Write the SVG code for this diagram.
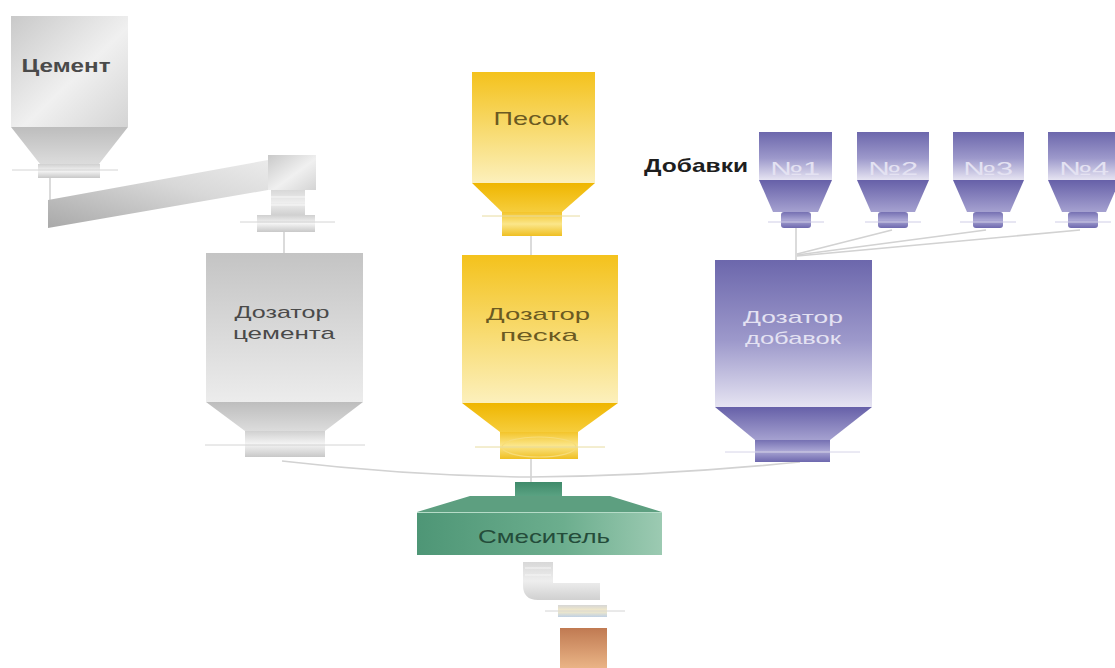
<svg xmlns="http://www.w3.org/2000/svg" width="1115" height="668" viewBox="0 0 1115 668">
  <defs>
    <!-- grey (cement) fills -->
    <linearGradient id="gBodyGrey" x1="0" y1="0" x2="1" y2="1">
      <stop offset="0" stop-color="#c9c9c9"/>
      <stop offset="0.55" stop-color="#f0f0f0"/>
      <stop offset="1" stop-color="#d4d4d4"/>
    </linearGradient>
    <linearGradient id="gBodyGrey2" x1="0" y1="0" x2="0" y2="1">
      <stop offset="0" stop-color="#c4c4c4"/>
      <stop offset="1" stop-color="#ececec"/>
    </linearGradient>
    <linearGradient id="gConeGrey" x1="0" y1="0" x2="0" y2="1">
      <stop offset="0" stop-color="#bdbdbd"/>
      <stop offset="1" stop-color="#dcdcdc"/>
    </linearGradient>
    <linearGradient id="gRingGrey" x1="0" y1="0" x2="0" y2="1">
      <stop offset="0" stop-color="#d0d0d0"/>
      <stop offset="0.5" stop-color="#f4f4f4"/>
      <stop offset="1" stop-color="#c8c8c8"/>
    </linearGradient>
    <linearGradient id="gScrew" x1="0" y1="1" x2="1" y2="0">
      <stop offset="0" stop-color="#a9a9a9"/>
      <stop offset="0.6" stop-color="#d8d8d8"/>
      <stop offset="1" stop-color="#ebebeb"/>
    </linearGradient>
    <linearGradient id="gStripes" x1="0" y1="0" x2="0" y2="1">
      <stop offset="0" stop-color="#d8d8d8"/>
      <stop offset="0.5" stop-color="#eeeeee"/>
      <stop offset="1" stop-color="#d0d0d0"/>
    </linearGradient>
    <!-- yellow (sand) fills -->
    <linearGradient id="gBodyYellow" x1="0" y1="0" x2="0" y2="1">
      <stop offset="0" stop-color="#f4c21c"/>
      <stop offset="0.55" stop-color="#f8dc74"/>
      <stop offset="1" stop-color="#fcf0bc"/>
    </linearGradient>
    <linearGradient id="gConeYellow" x1="0" y1="0" x2="0" y2="1">
      <stop offset="0" stop-color="#efb600"/>
      <stop offset="1" stop-color="#f6cd3c"/>
    </linearGradient>
    <linearGradient id="gRingYellow" x1="0" y1="0" x2="0" y2="1">
      <stop offset="0" stop-color="#f3c42a"/>
      <stop offset="0.5" stop-color="#fbe68a"/>
      <stop offset="1" stop-color="#efbf22"/>
    </linearGradient>
    <!-- violet (additives) fills -->
    <linearGradient id="gBodyViolet" x1="0" y1="0" x2="0" y2="1">
      <stop offset="0" stop-color="#6c67ac"/>
      <stop offset="0.55" stop-color="#9d99cb"/>
      <stop offset="1" stop-color="#e6e4f2"/>
    </linearGradient>
    <linearGradient id="gConeViolet" x1="0" y1="0" x2="0" y2="1">
      <stop offset="0" stop-color="#6660a8"/>
      <stop offset="1" stop-color="#a5a1d0"/>
    </linearGradient>
    <linearGradient id="gRingViolet" x1="0" y1="0" x2="0" y2="1">
      <stop offset="0" stop-color="#7570b2"/>
      <stop offset="0.5" stop-color="#aaa6d4"/>
      <stop offset="1" stop-color="#6d68ae"/>
    </linearGradient>
    <!-- green (mixer) fills -->
    <linearGradient id="gGreen" x1="0" y1="0" x2="1" y2="0">
      <stop offset="0" stop-color="#4e9676"/>
      <stop offset="0.6" stop-color="#6cae8e"/>
      <stop offset="1" stop-color="#9ccab2"/>
    </linearGradient>
    <linearGradient id="gGreenTop" x1="0" y1="0" x2="0" y2="1">
      <stop offset="0" stop-color="#3f8a6a"/>
      <stop offset="1" stop-color="#5aa282"/>
    </linearGradient>
    <!-- outlet fills -->
    <linearGradient id="gOut" x1="0" y1="0" x2="0" y2="1">
      <stop offset="0" stop-color="#c07a52"/>
      <stop offset="1" stop-color="#eab486"/>
    </linearGradient>
    <linearGradient id="gRingOut" x1="0" y1="0" x2="0" y2="1">
      <stop offset="0" stop-color="#d6d6d6"/>
      <stop offset="0.5" stop-color="#f6ecc8"/>
      <stop offset="1" stop-color="#bfd0e4"/>
    </linearGradient>
  </defs>

  <style>
    .flange { stroke: #d4d4d4; stroke-width: 1; }
    .link { fill: none; stroke: #d2d2d2; stroke-width: 1.6; }
    .lbl { font-family: "Liberation Sans", Arial, sans-serif; font-size: 19px; text-anchor: middle; }
    .two { font-size: 17px; }
    .dark { fill: #4a4a4a; }
    .brown { fill: #6b5a22; }
    .light { fill: #e4e2f2; }
    .greenTxt { fill: #244c3a; }
  </style>

  <rect width="1115" height="668" fill="#ffffff"/>

  <!-- connectors -->
  <g id="connectors">
    <line class="link" x1="50" y1="178" x2="50" y2="200"/>
    <line class="link" x1="284" y1="232" x2="284" y2="253"/>
    <line class="link" x1="531" y1="236" x2="531" y2="255"/>
    <line class="link" x1="796" y1="228" x2="796" y2="260"/>
    <line class="link" x1="892" y1="230" x2="797" y2="254"/>
    <line class="link" x1="986" y1="230" x2="797" y2="255"/>
    <line class="link" x1="1080" y1="230" x2="797" y2="256"/>
    <path class="link" d="M 282 461 Q 410 476 530 477 Q 660 476 800 462"/>
    <line class="link" x1="531" y1="459" x2="531" y2="482"/>
  </g>

  <!-- cement silo -->
  <g id="cement-silo">
    <rect x="11" y="16" width="117" height="111" fill="url(#gBodyGrey)"/>
    <polygon points="11,127 128,127 99,164 40,164" fill="url(#gConeGrey)"/>
    <rect x="38" y="164" width="62" height="14" fill="url(#gRingGrey)"/>
    <line class="flange" x1="12" y1="170" x2="118" y2="170"/>
    <text class="lbl dark" x="66" y="72" font-weight="bold" textLength="89" lengthAdjust="spacingAndGlyphs">Цемент</text>
  </g>

  <!-- screw conveyor -->
  <g id="screw-conveyor">
    <polygon points="48,200 268,160 268,190 48,228" fill="url(#gScrew)"/>
    <rect x="268" y="155" width="48" height="35" fill="url(#gBodyGrey)"/>
    <rect x="271" y="190" width="34" height="25" fill="url(#gStripes)"/>
    <line x1="271" y1="197" x2="305" y2="197" stroke="#f8f8f8" stroke-width="1"/>
    <line x1="271" y1="205" x2="305" y2="205" stroke="#f8f8f8" stroke-width="1"/>
    <rect x="257" y="215" width="58" height="17" fill="url(#gRingGrey)"/>
    <line class="flange" x1="240" y1="222" x2="335" y2="222"/>
  </g>

  <!-- sand silo -->
  <g id="sand-silo">
    <rect x="472" y="72" width="123" height="111" fill="url(#gBodyYellow)"/>
    <polygon points="472,183 595,183 562,212 502,212" fill="url(#gConeYellow)"/>
    <rect x="502" y="212" width="60" height="24" fill="url(#gRingYellow)"/>
    <line x1="482" y1="216" x2="580" y2="216" stroke="#e8dca0" stroke-width="1"/>
    <text class="lbl brown" x="531" y="125" textLength="75" lengthAdjust="spacingAndGlyphs">Песок</text>
  </g>

  <!-- additive bins -->
  <text id="additives-label" class="lbl" x="696" y="172" font-size="17" font-weight="bold" fill="#1e1e1e" textLength="104" lengthAdjust="spacingAndGlyphs">Добавки</text>
  <g id="additive-1">
    <rect x="759" y="132" width="73" height="48" fill="url(#gBodyViolet)"/>
    <polygon points="759,180 832,180 818,212 773,212" fill="url(#gConeViolet)"/>
    <rect x="781" y="212" width="30" height="16" rx="3" fill="url(#gRingViolet)"/>
    <line x1="768" y1="222" x2="824" y2="222" stroke="#cfcde6" stroke-width="1"/>
    <text class="lbl light" x="795" y="175" font-size="16" textLength="50" lengthAdjust="spacingAndGlyphs">№1</text>
  </g>
  <g id="additive-2">
    <rect x="857" y="132" width="72" height="48" fill="url(#gBodyViolet)"/>
    <polygon points="857,180 929,180 915,212 871,212" fill="url(#gConeViolet)"/>
    <rect x="878" y="212" width="30" height="16" rx="3" fill="url(#gRingViolet)"/>
    <line x1="865" y1="222" x2="921" y2="222" stroke="#cfcde6" stroke-width="1"/>
    <text class="lbl light" x="893" y="175" font-size="16" textLength="50" lengthAdjust="spacingAndGlyphs">№2</text>
  </g>
  <g id="additive-3">
    <rect x="953" y="132" width="71" height="48" fill="url(#gBodyViolet)"/>
    <polygon points="953,180 1024,180 1010,212 967,212" fill="url(#gConeViolet)"/>
    <rect x="973" y="212" width="30" height="16" rx="3" fill="url(#gRingViolet)"/>
    <line x1="960" y1="222" x2="1016" y2="222" stroke="#cfcde6" stroke-width="1"/>
    <text class="lbl light" x="988" y="175" font-size="16" textLength="50" lengthAdjust="spacingAndGlyphs">№3</text>
  </g>
  <g id="additive-4">
    <rect x="1048" y="132" width="72" height="48" fill="url(#gBodyViolet)"/>
    <polygon points="1048,180 1120,180 1106,212 1062,212" fill="url(#gConeViolet)"/>
    <rect x="1068" y="212" width="30" height="16" rx="3" fill="url(#gRingViolet)"/>
    <line x1="1055" y1="222" x2="1111" y2="222" stroke="#cfcde6" stroke-width="1"/>
    <text class="lbl light" x="1084" y="175" font-size="16" textLength="50" lengthAdjust="spacingAndGlyphs">№4</text>
  </g>

  <!-- cement doser -->
  <g id="cement-doser">
    <rect x="206" y="253" width="157" height="149" fill="url(#gBodyGrey2)"/>
    <polygon points="206,402 363,402 325,431 245,431" fill="url(#gConeGrey)"/>
    <rect x="245" y="431" width="80" height="26" fill="url(#gRingGrey)"/>
    <line class="flange" x1="205" y1="445" x2="365" y2="445"/>
    <text class="lbl two dark" x="282" y="318" textLength="95" lengthAdjust="spacingAndGlyphs">Дозатор</text>
    <text class="lbl two dark" x="284" y="339" textLength="102" lengthAdjust="spacingAndGlyphs">цемента</text>
  </g>

  <!-- sand doser -->
  <g id="sand-doser">
    <rect x="462" y="255" width="156" height="148" fill="url(#gBodyYellow)"/>
    <polygon points="462,403 618,403 578,432 500,432" fill="url(#gConeYellow)"/>
    <rect x="500" y="432" width="78" height="27" fill="url(#gRingYellow)"/>
    <ellipse cx="539" cy="447" rx="37" ry="10" fill="none" stroke="#f7dc78" stroke-width="1.2"/>
    <line x1="475" y1="447" x2="605" y2="447" stroke="#e8dca0" stroke-width="1"/>
    <text class="lbl two brown" x="538" y="320" textLength="104" lengthAdjust="spacingAndGlyphs">Дозатор</text>
    <text class="lbl two brown" x="539" y="341" textLength="78" lengthAdjust="spacingAndGlyphs">песка</text>
  </g>

  <!-- additive doser -->
  <g id="additive-doser">
    <rect x="715" y="260" width="157" height="147" fill="url(#gBodyViolet)"/>
    <polygon points="715,407 872,407 830,440 755,440" fill="url(#gConeViolet)"/>
    <rect x="755" y="440" width="75" height="22" fill="url(#gRingViolet)"/>
    <line x1="725" y1="452" x2="860" y2="452" stroke="#d6d4e8" stroke-width="1"/>
    <text class="lbl two light" x="793" y="323" textLength="100" lengthAdjust="spacingAndGlyphs">Дозатор</text>
    <text class="lbl two light" x="793" y="344" textLength="96" lengthAdjust="spacingAndGlyphs">добавок</text>
  </g>

  <!-- mixer -->
  <g id="mixer">
    <rect x="515" y="482" width="47" height="14" fill="url(#gGreenTop)"/>
    <polygon points="417,512 470,496 610,496 662,512" fill="#5d9f80"/>
    <rect x="417" y="512" width="245" height="43" fill="url(#gGreen)"/>
    <line x1="417" y1="512.5" x2="662" y2="512.5" stroke="#b6dcc8" stroke-width="1.2"/>
    <text class="lbl greenTxt" x="544" y="543" textLength="132" lengthAdjust="spacingAndGlyphs">Смеситель</text>
  </g>

  <!-- discharge elbow -->
  <g id="discharge">
    <path d="M 523 562 L 553 562 L 553 583 L 600 583 L 600 600 L 538 600 Q 523 600 523 585 Z" fill="url(#gStripes)"/>
    <line x1="525" y1="568" x2="551" y2="568" stroke="#f6f6f6" stroke-width="1"/>
    <line x1="525" y1="575" x2="551" y2="575" stroke="#f6f6f6" stroke-width="1"/>
    <rect x="558" y="605" width="49" height="12" fill="url(#gRingOut)"/>
    <line class="flange" x1="545" y1="611" x2="625" y2="611"/>
  </g>

  <!-- outlet -->
  <g id="outlet">
    <rect x="560" y="628" width="47" height="40" fill="url(#gOut)"/>
  </g>
</svg>
